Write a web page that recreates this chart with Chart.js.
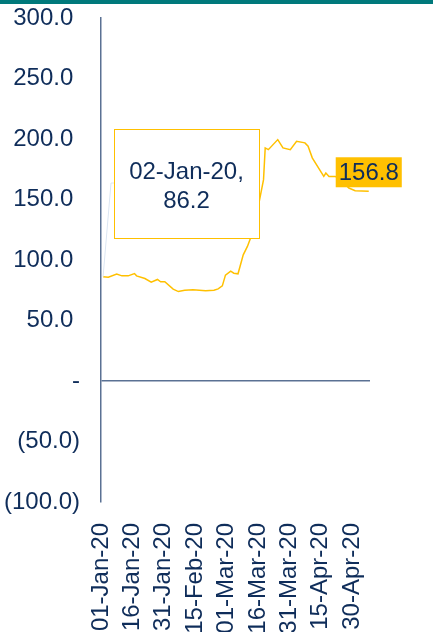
<!DOCTYPE html>
<html>
<head>
<meta charset="utf-8">
<script src="https://cdn.jsdelivr.net/npm/chart.js@4.4.1/dist/chart.umd.min.js"></script>
<style>
  body { margin: 0; background: #fff; }
  canvas { display: block; }
</style>
</head>
<body>
<canvas id="grafico" width="433" height="632"></canvas>
<script>
// dias desde 01-Jan-20 e valores
const dias = [1, 3.5, 7.5, 10, 13, 16, 17, 21, 24, 27, 28.5, 30.5, 34.5, 37, 40, 44, 50, 54, 56, 58,
    59.5, 62, 63.5, 65.5, 68, 70, 71.5, 75.5, 77.7, 78.5, 80, 84.5, 87, 90.5, 93.5, 97.5, 99, 101,
    106.5, 107.5, 109, 112, 114.5, 118.5, 121.5, 128];
const valores = [86.2, 85.8, 88.3, 86.9, 86.9, 88.8, 86.9, 84.7, 81.7, 83.9, 82.0, 82.0, 75.9, 73.9, 75.0, 75.5, 74.5, 75.0, 76.1, 78.6,
    87.5, 90.8, 89.1, 88.6, 104.3, 111.2, 118.1, 147.0, 166.4, 192.6, 191.2, 199.5, 192.6, 191.2, 198.1, 196.8, 194.0, 184.4,
    169.1, 171.9, 169.1, 169.1, 166.4, 159.5, 157.3, 156.8];
const rotulosX = ['01-Jan-20', '16-Jan-20', '31-Jan-20', '15-Feb-20', '01-Mar-20', '16-Mar-20', '31-Mar-20', '15-Apr-20', '30-Apr-20'];
const ticksY = [-100, -50, 0, 50, 100, 150, 200, 250, 300];

const AZUL = '#0f2d5a';
const AMARELO = '#ffc000';
const FONTE = "'Liberation Sans', Arial, sans-serif";

function formatoContabil(v) {
    if (v === 0) return '-';
    if (v < 0) return '(' + (-v).toFixed(1) + ')';
    return v.toFixed(1) + ' ';
}

const pluginExtras = {
    id: 'extras',
    beforeDraw(chart) {
        const c = chart.ctx;
        c.save();
        c.fillStyle = '#00797b';
        c.fillRect(0, 0, chart.width, 4);
        c.restore();
    },
    afterDatasetsDraw(chart) {
        const c = chart.ctx;
        const ca = chart.chartArea;
        const pts = chart.getDatasetMeta(0).data;
        const p0 = pts[0];
        const pN = pts[pts.length - 1];

        // caixa do primeiro ponto
        const bx = ca.left + 13, by = ca.top + 111, bw = 145, bh = 109;
        c.save();
        c.strokeStyle = '#dce6f2';
        c.lineWidth = 1;
        c.beginPath();
        c.moveTo(p0.x, p0.y);
        c.lineTo(bx - 3, ca.top + 165);
        c.lineTo(bx, ca.top + 165);
        c.stroke();

        c.fillStyle = '#fff';
        c.fillRect(bx, by, bw, bh);
        c.strokeStyle = AMARELO;
        c.lineWidth = 1;
        c.strokeRect(bx + 0.5, by + 0.5, bw, bh);

        c.fillStyle = AZUL;
        c.font = '24px ' + FONTE;
        c.textAlign = 'center';
        c.textBaseline = 'middle';
        c.fillText('02-Jan-20,', bx + bw / 2, by + 43);
        c.fillText(valores[0].toFixed(1), bx + bw / 2, by + 72);

        // rótulo do último ponto
        const txt = valores[valores.length - 1].toFixed(1);
        const tw = c.measureText(txt).width;
        const ly = pN.y - 19;
        c.fillStyle = AMARELO;
        c.fillRect(pN.x - tw / 2 - 3, ly - 15, tw + 6, 30);
        c.fillStyle = AZUL;
        c.fillText(txt, pN.x, ly + 1);
        c.restore();
    }
};

new Chart(document.getElementById('grafico'), {
    type: 'line',
    data: {
        datasets: [{
            data: dias.map((d, i) => ({ x: d, y: valores[i] })),
            borderColor: AMARELO,
            borderWidth: 1.5,
            pointRadius: 0,
            tension: 0
        }]
    },
    options: {
        responsive: false,
        animation: false,
        layout: { padding: { top: 18, right: 63, left: 0, bottom: 0 } },
        plugins: {
            legend: { display: false },
            tooltip: { enabled: false }
        },
        scales: {
            x: {
                type: 'linear',
                min: 0,
                max: 128.6,
                afterFit(s) { s.height = 130; s.paddingTop = 0; s.paddingBottom = 0; },
                grid: { display: false },
                border: { display: false },
                ticks: {
                    stepSize: 15,
                    includeBounds: false,
                    autoSkip: false,
                    minRotation: 90,
                    maxRotation: 90,
                    padding: 13,
                    color: AZUL,
                    font: { family: FONTE, size: 24 },
                    callback: v => rotulosX[v / 15] ?? ''
                }
            },
            y: {
                min: ticksY[0],
                max: ticksY[ticksY.length - 1],
                afterFit(s) { s.width = 101; s.paddingTop = 0; s.paddingBottom = 0; },
                afterBuildTicks(s) { s.ticks = ticksY.map(v => ({ value: v })); },
                border: { display: true, color: '#5a7193', width: 1.5 },
                grid: {
                    drawTicks: false,
                    lineWidth: 1.5,
                    color: ctx => ctx.tick && ctx.tick.value === 0 ? '#5a7193' : 'rgba(0,0,0,0)'
                },
                ticks: {
                    padding: 21,
                    color: AZUL,
                    font: { family: FONTE, size: 24 },
                    callback: v => formatoContabil(v)
                }
            }
        }
    },
    plugins: [pluginExtras]
});
</script>
</body>
</html>
